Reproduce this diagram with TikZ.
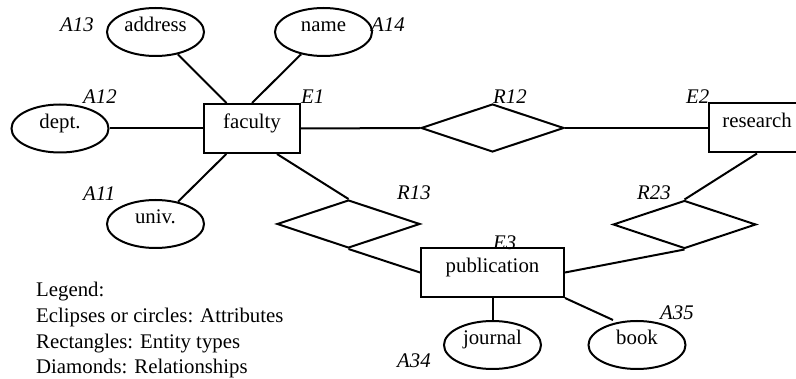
\documentclass[tikz,border=0pt]{standalone}
\usepackage{fontspec}
\setmainfont{Liberation Serif}
\usetikzlibrary{shapes.geometric}
\begin{document}
\begin{tikzpicture}[x=1pt,y=-1pt,
  every node/.style={font=\fontsize{20.8}{24}\selectfont, inner sep=0pt},
  base/.style={line width=2pt, text height=1ex, text depth=1ex},
  attr/.style={base, draw, ellipse, minimum width=97pt, minimum height=48pt},
  entity/.style={base, draw, rectangle, minimum height=49pt},
  rel/.style={base, draw, diamond, minimum width=143pt, minimum height=48pt},
  lbl/.style={anchor=base west, font=\fontsize{20.8}{24}\selectfont\itshape},
  legend/.style={anchor=base west},
  link/.style={line width=2pt}]
\useasboundingbox (0,0) rectangle (796,379);
\clip (0,0) rectangle (796,379);

% entities
\node[entity, minimum width=96pt]  (faculty) at (252,128.5) {faculty};
\node[entity, minimum width=96pt]  (research) at (757,128) {research};
\node[entity, minimum width=143pt] (publication) at (492.5,272.5) {publication};

% relationships
\node[rel] (r12) at (492.5,128) {};
\node[rel] (r13) at (348.5,224) {};
\node[rel] (r23) at (684.5,224.5) {};

% attributes
\node[attr] (address) at (155.5,32) {address};
\node[attr] (name)    at (323.5,32) {name};
\node[attr] (dept)    at (60,128.5) {dept.};
\node[attr] (univ)    at (155.5,224) {univ.};
\node[attr] (journal) at (492.5,345) {journal};
\node[attr] (book)    at (637,345) {book};

% identifiers
\node[lbl] (lA13) at (60,32)   {A13};
\node[lbl] (lA14) at (371,32)  {A14};
\node[lbl] (lA12) at (83,104)  {A12};
\node[lbl] (lE1)  at (301,104) {E1};
\node[lbl] (lR12) at (493,104) {R12};
\node[lbl] (lE2)  at (686,104) {E2};
\node[lbl] (lA11) at (83,201)  {A11};
\node[lbl] (lR13) at (397,200) {R13};
\node[lbl] (lR23) at (637,200) {R23};
\node[lbl] (lE3)  at (493,250) {E3};
\node[lbl] (lA35) at (660,320) {A35};
\node[lbl] (lA34) at (397,368) {A34};

% connectors
\draw[link] (dept) -- (faculty);
\draw[link] (address) -- (faculty);
\draw[link] (name) -- (faculty.north);
\draw[link] (faculty) -- (univ);
\draw[link] (faculty.east) -- (r12.west);
\draw[link] (r12.east) -- (research.west);
\draw[link] ([xshift=25pt]faculty.south) -- (r13.north);
\draw[link] (research.south) -- (r23.north);
\draw[link] (r13.south) -- (publication.west);
\draw[link] (r23.south) -- (publication.east);
\draw[link] (publication.south) -- (journal.north);
\draw[link] (publication.south east) -- ([xshift=-24pt]book.north);

% legend
\node[legend] (leg1) at (36,296.7) {Legend:};
\node[legend] (leg2) at (36,322.5) {Eclipses or circles: Attributes};
\node[legend] (leg3) at (36,348.3) {Rectangles: Entity types};
\node[legend] (leg4) at (36,374)   {Diamonds: Relationships};
\end{tikzpicture}
\end{document}
